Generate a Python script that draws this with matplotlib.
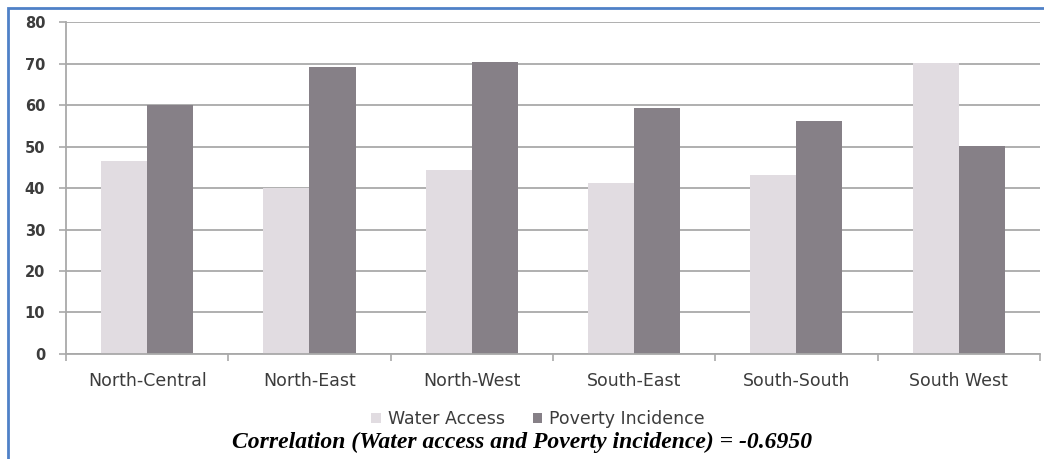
import matplotlib.pyplot as plt
import numpy as np
from matplotlib.patches import Rectangle

regions = ["North-Central", "North-East", "North-West", "South-East", "South-South", "South West"]
water_access = [46.5, 40.1, 44.3, 41.1, 43.1, 70.2]
poverty_incidence = [60.0, 69.1, 70.4, 59.2, 56.1, 50.2]

water_col = "#e1dce1"
pov_col = "#868087"
grid_col = "#a9a9a9"
txt_col = "#3c3c3c"
fnt = "DejaVu Sans"

fig = plt.figure(figsize=(10.44, 4.59), dpi=100)
ax = fig.add_axes([0.0632, 0.2288, 0.9328, 0.7232])

x = np.arange(len(regions))
w = 0.284
ax.bar(x - w / 2, water_access, w, color=water_col, label="Water Access", zorder=2)
ax.bar(x + w / 2, poverty_incidence, w, color=pov_col, label="Poverty Incidence", zorder=2)

ax.set_xlim(-0.5, len(regions) - 0.5)
ax.set_ylim(0, 80)
ax.set_yticks(range(0, 81, 10))
ax.yaxis.grid(True, color=grid_col, linewidth=1.3, zorder=0)
ax.set_axisbelow(True)

ax.set_xticks(x)
ax.set_xticklabels(regions, fontsize=12.5, family=fnt, color=txt_col)
ax.tick_params(axis="x", length=0, pad=13)
ax.set_xticks(np.arange(-0.5, len(regions)), minor=True)
ax.tick_params(axis="x", which="minor", length=5, color=grid_col, width=1.2)
ax.tick_params(axis="y", length=5, color=grid_col, width=1.2, pad=10,
               labelsize=10.5, labelcolor=txt_col)
for lab in ax.get_yticklabels():
    lab.set_family(fnt)
    lab.set_fontweight("bold")

for s in ["top", "right"]:
    ax.spines[s].set_visible(False)
for s in ["left", "bottom"]:
    ax.spines[s].set_color(grid_col)
    ax.spines[s].set_linewidth(1.3)

fig.legend(loc="center", bbox_to_anchor=(538 / 1044, 1 - 419 / 459), ncol=2,
           frameon=False, prop={"family": fnt, "size": 12.5}, handlelength=0.55,
           handleheight=0.55, handletextpad=0.4, columnspacing=1.6, labelcolor=txt_col)

fig.text(0.5, 1 - 442 / 459, "Correlation (Water access and Poverty incidence) = -0.6950",
         ha="center", va="center", family="Liberation Serif", style="italic",
         weight="bold", fontsize=17)

# blue frame (top and left edge)
fig.add_artist(Rectangle((8 / 1044, -0.1), 1.2, 1 - 8 / 459 + 0.1, transform=fig.transFigure,
                         fill=False, edgecolor="#4f81c7", linewidth=2))

fig.savefig("out.png", dpi=100)
